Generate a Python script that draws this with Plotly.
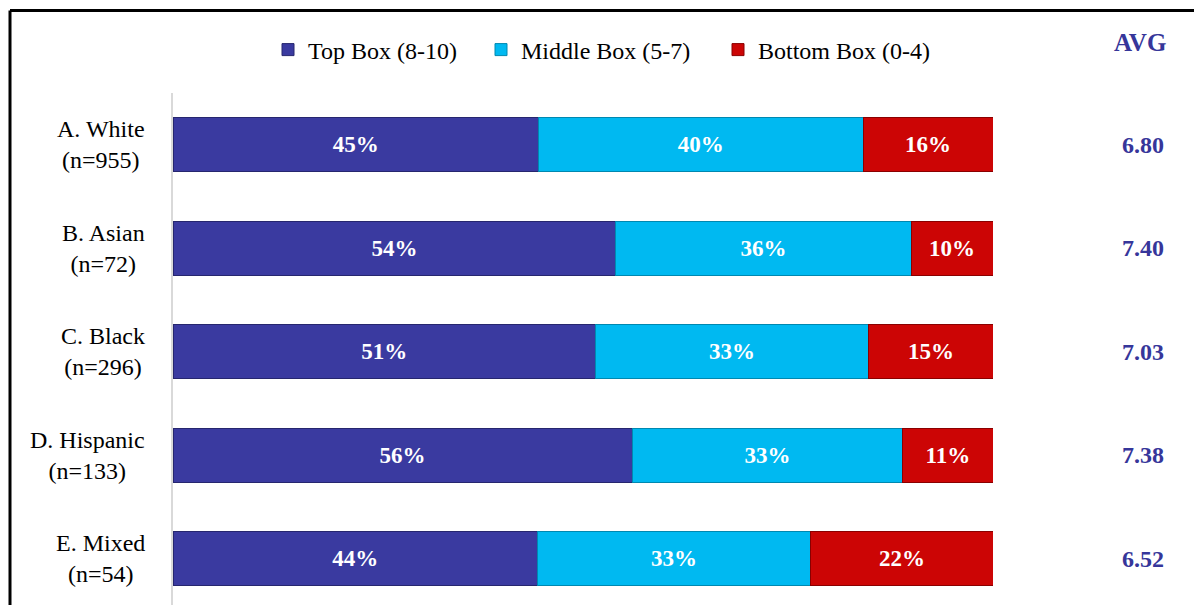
import plotly.graph_objects as go

categories = ["A. White<br>(n=955)", "B. Asian<br>(n=72)", "C. Black<br>(n=296)",
              "D. Hispanic<br>(n=133)", "E. Mixed<br>(n=54)"]
top_box = [45, 54, 51, 56, 44]
middle_box = [40, 36, 33, 33, 33]
bottom_box = [16, 10, 15, 11, 22]
avg = [6.80, 7.40, 7.03, 7.38, 6.52]
avg_title = "AVG"

series = [
    ("Top Box (8-10)", top_box, "#3a3aa0", "#26266e", 168),
    ("Middle Box (5-7)", middle_box, "#00b9f1", "#0088b0", 192),
    ("Bottom Box (0-4)", bottom_box, "#cc0505", "#8a0000", 185),
]

FONT = "Liberation Serif, Times New Roman, serif"
AVG_COLOR = "#36369a"

# page has an 8px body margin: figure coords = reference page coords - 8
OFF = 8
W, H = 1202 - OFF, 605 - OFF
L, R, T, B = 173 - OFF, 1202 - 993, 93 - OFF, 0
pw, ph = W - L - R, H - T - B


def px_x(px):
    return (px - OFF - L) / pw


def px_y(py):
    return (H - B - (py - OFF)) / ph


fig = go.Figure()
for name, vals, col, edge, lw in series:
    fig.add_trace(go.Bar(
        name=name, y=categories, x=vals, orientation="h",
        marker=dict(color=col, line=dict(color=edge, width=1)),
        text=[f"{v}%" for v in vals], texttemplate="%{text}",
        textposition="inside", insidetextanchor="middle",
        textfont=dict(family=FONT, size=23, color="white", weight="bold"),
        width=0.52, legendwidth=lw,
    ))

annotations = []
for cat in categories:
    annotations.append(dict(
        x=px_x(147), xref="paper", y=cat, yref="y", text=cat,
        xanchor="right", yanchor="middle", align="center", showarrow=False,
        font=dict(family=FONT, size=24, color="black"),
    ))
for cat, a in zip(categories, avg):
    annotations.append(dict(
        x=px_x(1143), xref="paper", y=cat, yref="y", text=f"{a:.2f}",
        xanchor="center", yanchor="middle", showarrow=False,
        font=dict(family=FONT, size=24, color=AVG_COLOR, weight="bold"),
    ))
annotations.append(dict(
    x=px_x(1140), xref="paper", y=px_y(42), yref="paper", text=avg_title,
    xanchor="center", yanchor="middle", showarrow=False,
    font=dict(family=FONT, size=25, color=AVG_COLOR, weight="bold"),
))

shapes = [
    dict(type="line", xref="paper", yref="paper", x0=px_x(10), x1=px_x(1260),
         y0=px_y(10.5), y1=px_y(10.5), line=dict(color="black", width=3)),
    dict(type="line", xref="paper", yref="paper", x0=px_x(10), x1=px_x(10),
         y0=px_y(10.5), y1=px_y(650), line=dict(color="black", width=3)),
]

unit = 103.5
fig.update_layout(
    width=W, height=H,
    margin=dict(l=L, r=R, t=T, b=B),
    barmode="stack", barnorm="percent",
    plot_bgcolor="white", paper_bgcolor="white",
    font=dict(family=FONT, size=22, color="black"),
    xaxis=dict(range=[0, 100], visible=False, fixedrange=True),
    yaxis=dict(type="category", categoryorder="array", categoryarray=categories,
               range=[-0.5 + ph / unit, -0.5], showticklabels=False,
               showgrid=False, zeroline=False, showline=True,
               linecolor="#d9d9d9", linewidth=2, ticks=""),
    legend=dict(orientation="h", x=px_x(268), xanchor="left",
                y=px_y(50), yanchor="middle", font=dict(family=FONT, size=24),
                bgcolor="rgba(0,0,0,0)", traceorder="normal"),
    showlegend=True,
    annotations=annotations,
    shapes=shapes,
)

fig.write_html("out.html")
